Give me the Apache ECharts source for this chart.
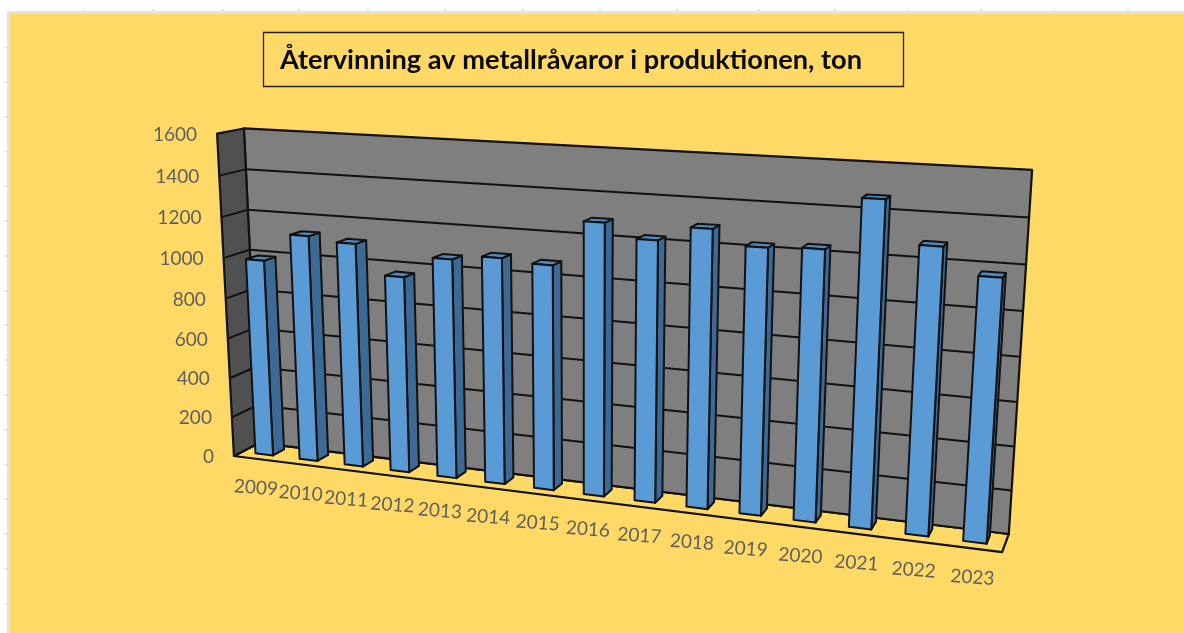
<!DOCTYPE html>
<html><head><meta charset="utf-8">
<style>html,body{margin:0;padding:0;background:#fff}#c{width:1184px;height:633px}</style>
<script src="https://cdn.jsdelivr.net/npm/echarts@6/dist/echarts.min.js"></script>
</head><body><div id="c"></div>
<script>
var years = ['2009','2010','2011','2012','2013','2014','2015','2016','2017','2018','2019','2020','2021','2022','2023'];
var tonnes = [986,1123,1103,961,1064,1088,1073,1285,1222,1290,1224,1234,1465,1281,1168];
var yTicks = [0,200,400,600,800,1000,1200,1400,1600];
var titleText = 'Återvinning av metallråvaror i produktionen, ton';
var sheetColsX = [83,152,222,298,367,444,522,599,676,758,834,907,980,1053,1127];

// Box corners of the 3D plot: [u, v, depth] -> screen point
var anchors = [
  [0,0,0, 236,454],[1,0,0, 1002,554],[1,0,1, 1009,532],[0,0,1, 257,445],
  [0,1,1, 246,128],[1,1,1, 1032,170],[0,1,0, 215,134]
];
function solve(A,b){
  var n=b.length,M=A.map(function(r,i){return r.concat([b[i]]);});
  for(var c=0;c<n;c++){
    var p=c;for(var r=c+1;r<n;r++)if(Math.abs(M[r][c])>Math.abs(M[p][c]))p=r;
    var t=M[c];M[c]=M[p];M[p]=t;
    for(var r2=0;r2<n;r2++){if(r2===c)continue;var f=M[r2][c]/M[c][c];
      for(var k=c;k<=n;k++)M[r2][k]-=f*M[c][k];}
  }
  return M.map(function(r,i){return r[n]/r[i];});
}
var H=(function(){
  var rows=[],rhs=[];
  anchors.forEach(function(a){
    rows.push([a[0],a[1],a[2],1,0,0,0,0,-a[3]*a[0],-a[3]*a[1],-a[3]*a[2]]);rhs.push(a[3]);
    rows.push([0,0,0,0,a[0],a[1],a[2],1,-a[4]*a[0],-a[4]*a[1],-a[4]*a[2]]);rhs.push(a[4]);
  });
  var N=[],v=[];
  for(var i=0;i<11;i++){N.push([]);var s=0;
    for(var j=0;j<11;j++){var d=0;rows.forEach(function(r){d+=r[i]*r[j];});N[i].push(d);}
    rows.forEach(function(r,q){s+=r[i]*rhs[q];});v.push(s);}
  return solve(N,v);
})();
function P(u,v,z){
  var w=H[8]*u+H[9]*v+H[10]*z+1;
  return [(H[0]*u+H[1]*v+H[2]*z+H[3])/w,(H[4]*u+H[5]*v+H[6]*z+H[7])/w];
}
var LINE='#111', Z0=0.33, Z1=0.78;
function poly(pts,fill,lw){
  return {type:'polygon',shape:{points:pts},style:{fill:fill,stroke:LINE,lineWidth:lw,lineJoin:'round'}};
}
function seg(a,b,lw){
  return {type:'line',shape:{x1:a[0],y1:a[1],x2:b[0],y2:b[1]},style:{stroke:LINE,lineWidth:lw,fill:null}};
}
function label(txt,p,align,rot){
  return {type:'text',x:p[0],y:p[1],rotation:rot||0,style:{text:txt,fill:'#5f5f5f',font:'19px Lato',align:align,verticalAlign:'middle'}};
}
function toUV(api,params,cat,val){
  var c=api.coord([cat,val]),s=params.coordSys;
  return [(c[0]-s.x)/s.width,(s.y+s.height-c[1])/s.height];
}
function renderWalls(params,api){
  var k=[
    poly([P(0,0,0),P(0,0,1),P(1,0,1),P(1,0,0)],'transparent',2.2),
    poly([P(0,0,1),P(1,0,1),P(1,1,1),P(0,1,1)],'#7f7f7f',2.2),
    poly([P(0,0,0),P(0,0,1),P(0,1,1),P(0,1,0)],'#505050',2.2)
  ];
  yTicks.forEach(function(t){
    var v=toUV(api,params,0,t)[1];
    if(t>0&&t<1600){k.push(seg(P(0,v,0),P(0,v,1),2));k.push(seg(P(0,v,1),P(1,v,1),2));}
    var a=P(0,v,0);k.push(label(String(t),[a[0]-20,a[1]+1],'right'));
  });
  return {type:'group',children:k};
}
function renderBar(params,api){
  var i=api.value(0),val=api.value(1);
  var uv=toUV(api,params,i,val),half=api.size([1,0])[0]/params.coordSys.width*0.2;
  var u0=uv[0]-half,u1=uv[0]+half,v=uv[1];
  var lab=P(uv[0],0,0);
  return {type:'group',children:[
    poly([P(u1,0,Z0),P(u1,0,Z1),P(u1,v,Z1),P(u1,v,Z0)],'#3c6a94',2),
    poly([P(u0,v,Z0),P(u1,v,Z0),P(u1,v,Z1),P(u0,v,Z1)],'#4f88bd',2),
    poly([P(u0,0,Z0),P(u1,0,Z0),P(u1,v,Z0),P(u0,v,Z0)],'#5b9bd5',2),
    label(years[i],[lab[0],lab[1]+29],'center',-0.07)
  ]};
}
var chart=echarts.init(document.getElementById('c'),null,{renderer:'canvas'});
var gridTicks=[];
sheetColsX.forEach(function(x){gridTicks.push({type:'rect',shape:{x:x,y:9,width:2,height:3},style:{fill:'#e0e0e0'}});});
for(var y=46;y<633;y+=34.8)gridTicks.push({type:'rect',shape:{x:5,y:Math.round(y),width:3,height:2},style:{fill:'#e0e0e0'}});
chart.setOption({
  animation:false,
  backgroundColor:'#fff',
  graphic:[
    {type:'rect',z:-10,shape:{x:7,y:11,width:1177,height:622},style:{fill:'#e2e2e2'}},
    {type:'rect',z:-9,shape:{x:10,y:14,width:1174,height:619},style:{fill:'#ffd966'}}
  ].concat(gridTicks),
  title:{text:titleText,left:263,top:32,padding:[15,42,13,17],borderColor:'#222',borderWidth:1.3,
    textStyle:{fontFamily:'Lato',fontWeight:'bold',fontSize:27.2,color:'#0a0a0a'}},
  grid:{left:0,top:0,width:1000,height:600,containLabel:false},
  xAxis:{type:'category',data:years,show:false},
  yAxis:{type:'value',min:0,max:1600,interval:200,show:false},
  series:[
    {type:'custom',name:'walls',coordinateSystem:'cartesian2d',silent:true,z:1,data:[[0,0]],renderItem:renderWalls},
    {type:'custom',name:'Återvinning',coordinateSystem:'cartesian2d',silent:true,z:2,encode:{x:0,y:1},
      data:tonnes.map(function(t,i){return [i,t];}),renderItem:renderBar}
  ]
});
</script></body></html>
